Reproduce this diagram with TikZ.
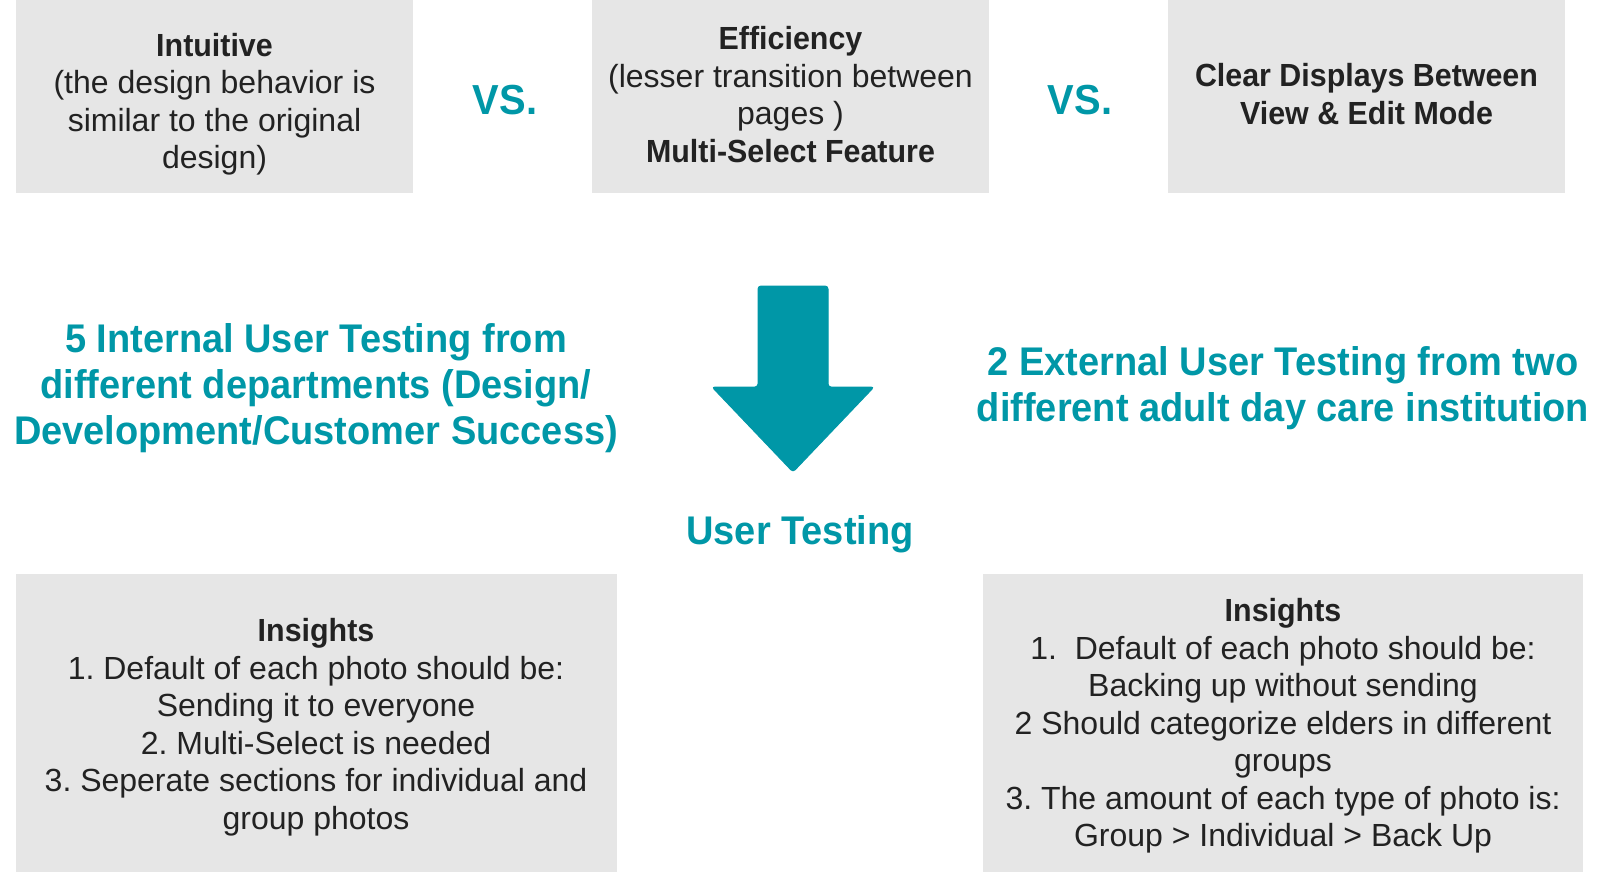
\documentclass[tikz,border=0pt]{standalone}
\usepackage{fontspec}
\setmainfont{Liberation Sans}
\newfontfamily\medfont{Liberation Sans Bold}[FakeStretch=0.95]
\definecolor{boxgray}{HTML}{E6E6E6}
\definecolor{teal}{HTML}{0097A7}
\definecolor{ink}{HTML}{222222}
\frenchspacing
\begin{document}
\begin{tikzpicture}[x=1pt,y=-1pt,
  graybox/.style={fill=boxgray,draw=none,inner sep=0pt,anchor=north west},
  bodytext/.style={inner sep=0pt,align=center,text=ink,font=\frenchspacing\fontsize{32}{37.5}\selectfont},
  headtext/.style={inner sep=0pt,align=center,text=teal,font=\medfont\fontsize{40}{46}\selectfont},
  vstext/.style={inner sep=0pt,text=teal,font=\medfont\fontsize{42}{46}\selectfont},
  arrowshape/.style={fill=teal,draw=teal,line width=1pt,rounded corners=3pt}]
\useasboundingbox (0,0) rectangle (1600,872);
% top boxes
\node[graybox,minimum width=397pt,minimum height=193pt] (b1) at (16,0) {};
\node[graybox,minimum width=397pt,minimum height=193pt] (b2) at (592,0) {};
\node[graybox,minimum width=397pt,minimum height=193pt] (b3) at (1168,0) {};
\node[bodytext] (t1) at (214.5,104) {{\medfont Intuitive}\\(the design behavior is\\similar to the original\\design)};
\node[bodytext] (t2) at (790.5,94.5) {{\medfont Efficiency}\\(lesser transition between\\pages )\\{\medfont Multi-Select Feature}};
\node[bodytext] (t3) at (1366.5,94) {{\medfont Clear Displays Between}\\{\medfont View \& Edit Mode}};
\node[vstext] (vs1) at (505,100.5) {VS.};
\node[vstext] (vs2) at (1080,100.5) {VS.};
% headings
\node[headtext] (h1) at (316,388) {5 Internal User Testing from\\different departments (Design/\\Development/Customer Success)};
\node[headtext] (h2) at (1283,388) {2 External User Testing from two\\different adult day care institution};
% arrow
\fill[arrowshape] (758,286) -- (828,286) -- (828,387) -- (874,387) -- (793,472) -- (712,387) -- (758,387) -- cycle;
\node[headtext] (ut) at (800,534) {User Testing};
% bottom boxes
\node[graybox,minimum width=601pt,minimum height=298pt] (b4) at (16,574) {};
\node[graybox,minimum width=600pt,minimum height=298pt] (b5) at (983,574) {};
\node[bodytext] (t4) at (316,727) {{\medfont Insights}\\1. Default of each photo should be:\\Sending it to everyone\\2. Multi-Select is needed\\3. Seperate sections for individual and\\group photos};
\node[bodytext] (t5) at (1283,726) {{\medfont Insights}\\1.\ \ Default of each photo should be:\\Backing up without sending\\2 Should categorize elders in different\\groups\\3. The amount of each type of photo is:\\Group > Individual > Back Up};
\end{tikzpicture}
\end{document}
